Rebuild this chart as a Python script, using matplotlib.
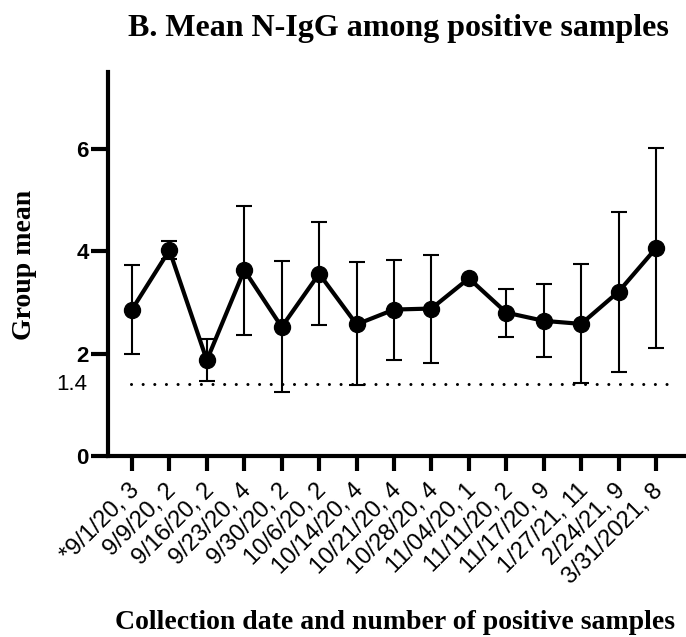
import matplotlib
matplotlib.use("Agg")
import matplotlib.pyplot as plt
import matplotlib.transforms as mtransforms
import numpy as np

labels = ["*9/1/20, 3", "9/9/20, 2", "9/16/20, 2", "9/23/20, 4", "9/30/20, 2",
          "10/6/20, 2", "10/14/20, 4", "10/21/20, 4", "10/28/20, 4", "11/04/20, 1",
          "11/11/20, 2", "11/17/20, 9", "1/27/21, 11", "2/24/21, 9", "3/31/2021, 8"]
means = [2.86, 4.02, 1.87, 3.63, 2.52, 3.56, 2.57, 2.86, 2.88, 3.47, 2.80, 2.64, 2.58, 3.21, 4.06]
err_hi = [3.73, 4.20, 2.29, 4.89, 3.80, 4.58, 3.78, 3.82, 3.93, 3.47, 3.27, 3.35, 3.75, 4.76, 6.01]
err_lo = [2.00, 3.84, 1.46, 2.37, 1.25, 2.55, 1.39, 1.88, 1.81, 3.47, 2.33, 1.93, 1.43, 1.64, 2.10]
threshold = 1.4
yticks = [0, 2, 4, 6]

fig = plt.figure(figsize=(6.86, 6.37), dpi=100)
ax = fig.add_axes([108/686, 1-456/637, 1-108/686, (456-72)/637])

x = np.arange(len(labels))
m = np.array(means)
yerr = np.vstack([m - np.array(err_lo), np.array(err_hi) - m])

ax.errorbar(x, m, yerr=yerr, fmt='none', ecolor='black', elinewidth=1.5,
            capsize=6, capthick=1.5, zorder=2)
ax.plot(x, m, color='black', lw=3, marker='o', markersize=11.5, zorder=3)

ax.axhline(threshold, xmin=0.04, xmax=0.975, color='black', lw=2.2,
           linestyle=(0, (0.01, 3.8)), dash_capstyle='round', zorder=1)

ax.set_xlim(-0.64, 14.8)
ax.set_ylim(0, 7.5)

for s in ['top', 'right']:
    ax.spines[s].set_visible(False)
for s in ['left', 'bottom']:
    ax.spines[s].set_linewidth(3)

ax.set_yticks(yticks)
ax.set_yticklabels([str(v) for v in yticks], fontfamily='Liberation Sans',
                   fontweight='bold', fontsize=16)
ax.tick_params(axis='y', length=12, width=3, pad=2)
ax.text(-21/578, threshold, "1.4", transform=ax.get_yaxis_transform(),
        ha='right', va='center', fontfamily='Liberation Sans', fontsize=16)

ax.set_xticks(x)
ax.set_xticklabels(labels, rotation=45, ha='right', rotation_mode='anchor',
                   fontfamily='Liberation Sans', fontsize=17)
ax.tick_params(axis='x', length=11, width=3, pad=6)
shift = mtransforms.ScaledTranslation(-4/100, 0, fig.dpi_scale_trans)
for lab in ax.get_xticklabels():
    lab.set_transform(lab.get_transform() + shift)

fig.text(398/686, 1-36/637, "B. Mean N-IgG among positive samples", ha='center', va='baseline',
         fontfamily='Liberation Serif', fontweight='bold', fontsize=23)
fig.text(25/686, 1-265/637, "Group mean", rotation=90, ha='center', va='center',
         fontfamily='Liberation Serif', fontweight='bold', fontsize=20)
fig.text(395/686, 1-629/637, "Collection date and number of positive samples", ha='center',
         va='baseline', fontfamily='Liberation Serif', fontweight='bold', fontsize=20)

fig.savefig("out.png", dpi=100)
